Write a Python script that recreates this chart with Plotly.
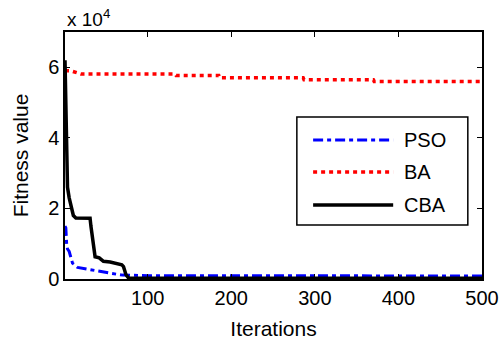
import plotly.graph_objects as go

# ---- data ----
series_names = ["PSO", "BA", "CBA"]

pso_x = [1, 2, 3, 4, 6, 8, 10, 16, 32, 40, 56, 70, 85, 100, 300, 500]
pso_y = [15000, 14500, 9700, 8500, 7800, 6000, 4500, 3300, 2600, 2100, 1600, 1100, 1000, 950, 900, 850]

ba_x = [1, 8, 20, 133, 134, 185, 186, 286, 287, 370, 371, 500]
ba_y = [59000, 59000, 58100, 58100, 57700, 57700, 57000, 57000, 56500, 56500, 56000, 56000]

cba_x = [1, 2, 3, 4, 6, 8, 11, 14, 31, 32, 34, 36, 37, 42, 47, 55, 62, 69, 71, 74, 77, 85, 500]
cba_y = [62000, 52000, 36000, 26000, 23000, 21000, 18000, 17300, 17200, 15000, 12000, 8000,
         6300, 6000, 5000, 4800, 4500, 4000, 3500, 1200, 300, 200, 200]

x_ticks = [100, 200, 300, 400, 500]
y_ticks = [0, 20000, 40000, 60000]
y_tick_text = ["0", "2", "4", "6"]

colors = ["#0000ff", "#ff0000", "#000000"]
dashes = ["10px,4px,4px,4px", "4px,4px", "solid"]
widths = [3, 3.5, 3.5]

FONT = "Liberation Sans, Arial, Helvetica, sans-serif"

fig = go.Figure()
for name, xs, ys, c, d, w in zip(series_names, [pso_x, ba_x, cba_x], [pso_y, ba_y, cba_y],
                                 colors, dashes, widths):
    fig.add_trace(go.Scatter(x=xs, y=ys, mode="lines", name=name, showlegend=False,
                             line=dict(color=c, dash=d, width=w)))

axis_common = dict(showgrid=False, zeroline=False, showline=True, linecolor="black",
                   linewidth=1.5, mirror="ticks", ticks="inside", ticklen=5,
                   tickcolor="black", tickwidth=1, automargin=False,
                   tickfont=dict(family=FONT, size=20, color="black"))

fig.update_xaxes(range=[1, 500], tickvals=x_ticks,
                 title=dict(text="Iterations", font=dict(family=FONT, size=21, color="black"), standoff=14),
                 **axis_common)
fig.update_yaxes(range=[0, 70000], tickvals=y_ticks, ticktext=y_tick_text,
                 title=dict(text="Fitness value", font=dict(family=FONT, size=21, color="black"), standoff=14),
                 **axis_common)

# custom legend (box + long line samples)
lx0, lx1, ly0, ly1 = 0.556, 0.966, 0.219, 0.656
fig.add_shape(type="rect", xref="paper", yref="paper", x0=lx0, x1=lx1, y0=ly0, y1=ly1,
              line=dict(color="black", width=1.5), fillcolor="white", layer="above")
entry_y = [0.563, 0.433, 0.300]
for name, c, d, w, ey in zip(series_names, colors, dashes, widths, entry_y):
    fig.add_shape(type="line", xref="paper", yref="paper", x0=0.595, x1=0.787, y0=ey, y1=ey,
                  line=dict(color=c, dash=d, width=w), layer="above")
    fig.add_annotation(xref="paper", yref="paper", x=0.808, y=ey, text=name, showarrow=False,
                       xanchor="left", yanchor="middle",
                       font=dict(family=FONT, size=20, color="black"))

fig.add_annotation(xref="paper", yref="paper", x=0.0, y=1.0, yshift=0, text="x 10<sup>4</sup>",
                   showarrow=False, xanchor="left", yanchor="bottom",
                   font=dict(family=FONT, size=19, color="black"))

fig.update_layout(width=500, height=349, margin=dict(l=65, r=18, t=32, b=70),
                  paper_bgcolor="white", plot_bgcolor="white",
                  font=dict(family=FONT, color="black"))

fig.write_html("out.html")
